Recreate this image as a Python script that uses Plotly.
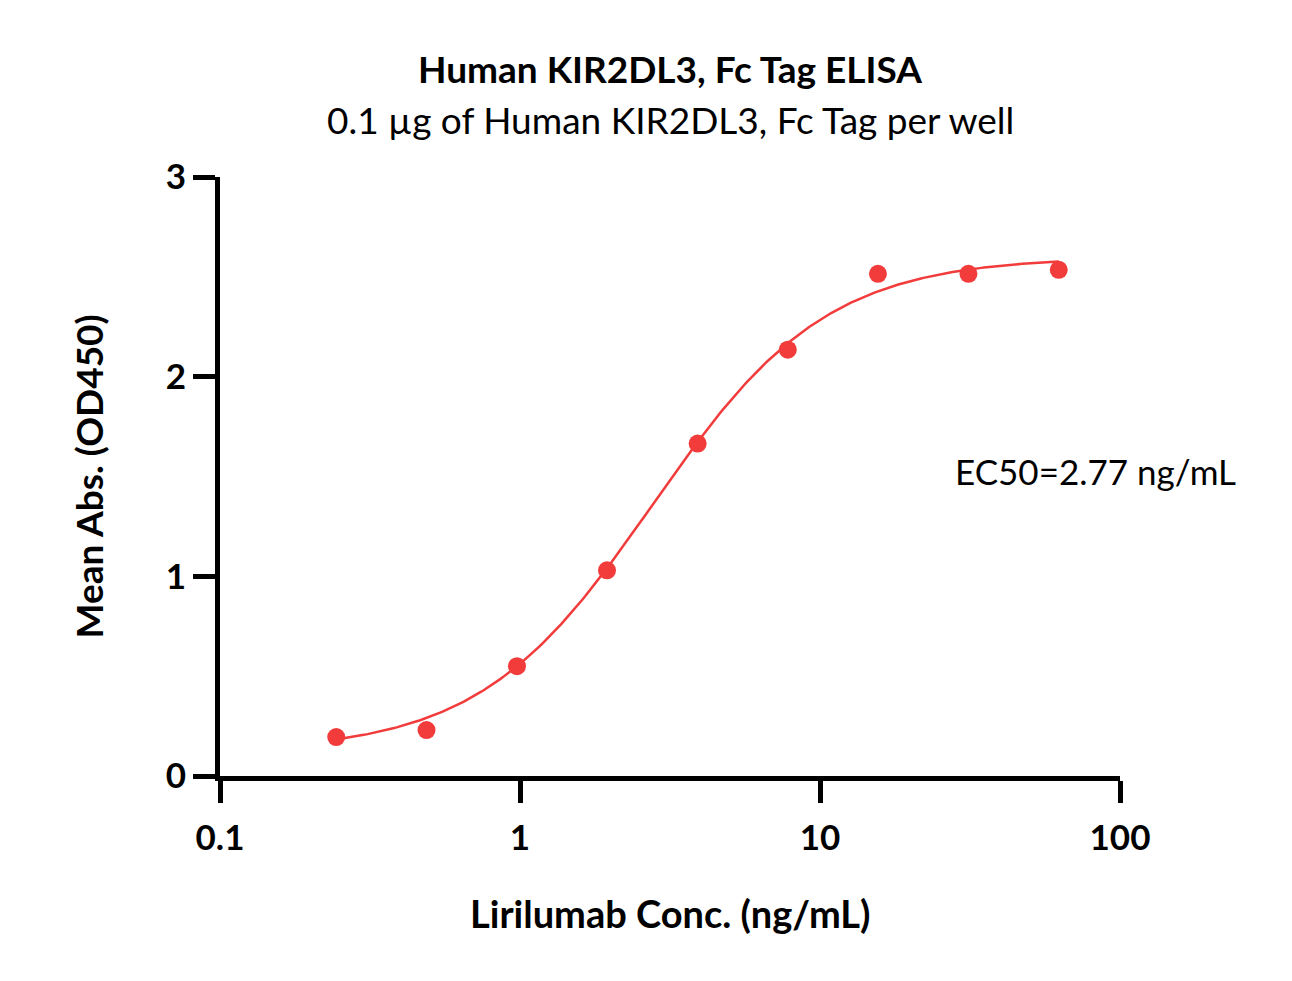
import numpy as np
import plotly.graph_objects as go

# Measured points (Lirilumab conc. in ng/mL, mean OD450)
conc = [0.244, 0.488, 0.977, 1.95, 3.91, 7.81, 15.6, 31.25, 62.5]
od450 = [0.195, 0.23, 0.55, 1.03, 1.665, 2.135, 2.515, 2.515, 2.535]

# 4PL fit parameters for the curve
bottom = 0.12
top = 2.60
ec50 = 2.77
hill = 1.5

red = '#F23B3B'

# fitted curve over the measured range
x_fit = np.logspace(np.log10(conc[0]), np.log10(conc[-1]), 300)
y_fit = bottom + (top - bottom) / (1 + (ec50 / x_fit) ** hill)

fig = go.Figure()

fig.add_trace(go.Scatter(x=x_fit, y=y_fit, mode='lines',
                         line=dict(color=red, width=2.5), hoverinfo='skip'))
fig.add_trace(go.Scatter(x=conc, y=od450, mode='markers',
                         marker=dict(color=red, size=18)))

# titles
fig.add_annotation(text='<b>Human KIR2DL3, Fc Tag ELISA</b>', xref='paper', yref='paper',
                   x=0.5, y=1.0, yanchor='middle', yshift=109, showarrow=False, font=dict(size=37))
fig.add_annotation(text='0.1 µg of Human KIR2DL3, Fc Tag per well', xref='paper', yref='paper',
                   x=0.5, y=1.0, yanchor='middle', yshift=58, showarrow=False, font=dict(size=37))
fig.add_annotation(text='<b>Lirilumab Conc. (ng/mL)</b>', xref='paper', yref='paper',
                   x=0.5, y=0.0, yanchor='middle', yshift=-137, showarrow=False, font=dict(size=38))
fig.add_annotation(text='<b>Mean Abs. (OD450)</b>', xref='paper', yref='paper', textangle=-90,
                   x=0.0, y=0.5, xanchor='center', xshift=-132, showarrow=False, font=dict(size=37))

# EC50 label
fig.add_annotation(text='EC50=2.77 ng/mL', x=np.log10(27.7), y=1.53,
                   xanchor='left', yanchor='middle', showarrow=False, font=dict(size=35))

fig.update_xaxes(type='log', range=[-1, 2], tickvals=[0.1, 1, 10, 100],
                 ticktext=['<b>0.1</b>', '<b>1</b>', '<b>10</b>', '<b>100</b>'],
                 showline=True, linecolor='black', linewidth=5,
                 ticks='outside', ticklen=22, tickwidth=5, tickcolor='black',
                 ticklabelstandoff=5,
                 showgrid=False, zeroline=False, tickfont=dict(size=35))
fig.update_yaxes(range=[0, 3], tickvals=[0, 1, 2, 3],
                 ticktext=['<b>0</b>', '<b>1</b>', '<b>2</b>', '<b>3</b>'],
                 showline=True, linecolor='black', linewidth=5,
                 ticks='outside', ticklen=22, tickwidth=5, tickcolor='black',
                 showgrid=False, zeroline=False, tickfont=dict(size=35))

fig.update_layout(
    width=1284, height=973,
    margin=dict(l=212, r=172, t=169, b=205),
    plot_bgcolor='white', paper_bgcolor='white',
    font=dict(family='Lato, sans-serif', color='black'),
    showlegend=False
)

fig.write_html('out.html')
